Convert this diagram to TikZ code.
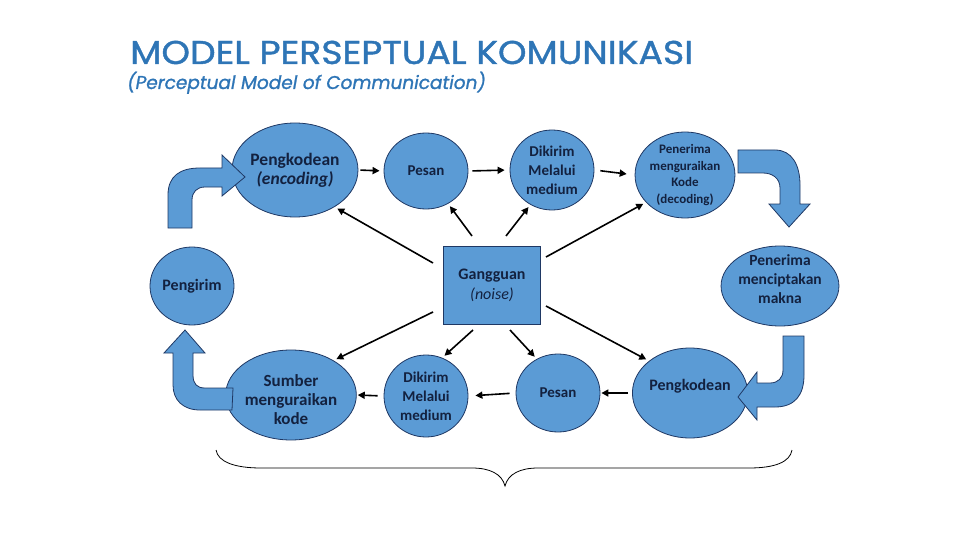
\documentclass[tikz,border=0pt]{standalone}
\usepackage{fontspec}
\setmainfont{Carlito}
\newfontfamily\titlefont[FakeStretch=1.1,FakeBold=1.2]{Poppins}
\newfontfamily\subtitlefont[FakeBold=1.2]{Poppins}
\usetikzlibrary{shapes.geometric,arrows.meta}
\definecolor{nodefill}{HTML}{5B9BD5}
\definecolor{nodeline}{HTML}{1F3864}
\definecolor{txt}{HTML}{13213F}
\definecolor{titleblue}{HTML}{2E75B6}
\newcommand{\stk}[1]{\begin{tabular}{@{}c@{}}#1\end{tabular}}
\tikzset{
  bub/.style={ellipse, draw=nodeline, line width=0.8pt, fill=nodefill, inner sep=0pt,
    align=center, text=txt, font=\bfseries\fontsize{15}{19}\selectfont},
  noisebox/.style={rectangle, draw=nodeline, line width=0.8pt, fill=nodefill, inner sep=0pt,
    align=center, text=txt, font=\bfseries\fontsize{16}{20}\selectfont,
    minimum width=97pt, minimum height=78pt},
  conn/.style={line width=1.6pt, -{Triangle[length=7pt,width=7pt]}, shorten >=3pt},
  flow/.style={line width=1.6pt, -{Triangle[length=7pt,width=7pt]}},
  bigarrow/.style={fill=nodefill, draw=nodeline, line width=0.8pt, line join=miter},
}
\begin{document}
\begin{tikzpicture}[x=1pt,y=-1pt]
\useasboundingbox (0,0) rectangle (960,540);
% titles
\node[anchor=base west, inner sep=0pt, text=titleblue, font=\titlefont\fontsize{33}{36}\selectfont] (title) at (130,64) {MODEL PERSEPTUAL KOMUNIKASI};
\node[anchor=base west, inner sep=0pt, text=titleblue, font=\subtitlefont\itshape\fontsize{18.5}{22}\selectfont] (subtitle) at (127,89) {(Perceptual Model of Communication)};

% nodes
\node[bub, minimum width=96pt, minimum height=94pt, font=\bfseries\fontsize{17.5}{19}\selectfont] (enc) at (295,170) {Pengkodean\\\textit{(encoding)}};
\node[bub, minimum width=84pt, minimum height=76pt] (pes1) at (426,171) {Pesan};
\node[bub, minimum width=84pt, minimum height=80pt] (dik1) at (552,170) {Dikirim\\Melalui\\medium};
\node[bub, minimum width=94pt, minimum height=84pt, font=\bfseries\fontsize{13}{16.5}\selectfont] (dec) at (685,175) {Penerima\\menguraikan\\Kode\\(decoding)};
\node[bub, minimum width=84pt, minimum height=78pt, font=\bfseries\fontsize{16}{19}\selectfont] (sender) at (192,286) {Pengirim};
\node[noisebox] (noise) at (492,285) {Gangguan\\\textit{\mdseries(noise)}};
\node[bub, minimum width=88pt, minimum height=80pt, font=\bfseries\fontsize{15.5}{19}\selectfont] (makna) at (780,286) {\raisebox{2pt}[0pt][0pt]{\stk{Penerima\\menciptakan\\makna}}};
\node[bub, minimum width=102pt, minimum height=90pt, font=\bfseries\fontsize{17}{19}\selectfont] (sum) at (291,395) {\raisebox{-11pt}[0pt][0pt]{\stk{Sumber\\menguraikan\\kode}}};
\node[bub, minimum width=84pt, minimum height=82pt] (dik2) at (426,396) {Dikirim\\Melalui\\medium};
\node[bub, minimum width=84pt, minimum height=78pt] (pes2) at (558,393) {Pesan};
\node[bub, minimum width=96pt, minimum height=90pt, font=\bfseries\fontsize{16}{19}\selectfont] (enc2) at (690,393) {\raisebox{3pt}[0pt][0pt]{Pengkodean}};

% horizontal flow arrows
\draw[flow, shorten <=2pt, shorten >=4pt] (enc.east) -- (pes1.west);
\draw[flow, shorten <=4pt, shorten >=5pt] (pes1.east) -- (dik1.west);
\draw[flow, shorten <=6pt, shorten >=8pt] (dik1.east) -- (dec.west);
\draw[flow, shorten <=4pt, shorten >=1pt] (enc2.west) -- (pes2.east);
\draw[flow, shorten <=6pt, shorten >=7pt] (pes2.west) -- (dik2.east);
\draw[flow, shorten <=6pt, shorten >=1pt] (dik2.west) -- (sum.east);

% noise connectors
\coordinate (n1) at (433,263);
\coordinate (n2) at (472,236);
\coordinate (n3) at (506,236);
\coordinate (n4) at (546,257);
\coordinate (n5) at (433,312);
\coordinate (n6) at (473,330);
\coordinate (n7) at (510,330);
\coordinate (n8) at (546,306);
\draw[conn] (n1) -- (enc.-43);
\draw[conn] (n2) -- (pes1.-56);
\draw[conn] (n3) -- (dik1.-122);
\draw[conn] (n4) -- (dec.-145);
\draw[conn] (n5) -- (sum.39);
\draw[conn] (n6) -- (dik2.67);
\draw[conn] (n7) -- (pes2.122);
\draw[conn] (n8) -- (enc2.142);

% block arrows
\draw[bigarrow] (168,228) -- (168,195) .. controls (168,176) and (180,168) .. (200,168) -- (222,168) -- (222,155) -- (245,177) -- (222,196) -- (222,187) -- (205,187) .. controls (197,187) and (192,192) .. (192,200) -- (192,228) -- cycle;
\draw[bigarrow] (738,150) -- (775,150) .. controls (792,150) and (800,165) .. (800,185) -- (800,204) -- (810,204) -- (789,227) -- (769,204) -- (780,204) -- (780,188) .. controls (780,178) and (772,173) .. (763,173) -- (738,173) -- cycle;
\draw[bigarrow] (783,336) -- (804,336) -- (804,375) .. controls (804,395) and (795,407) .. (775,407) -- (757,407) -- (757,420) -- (738,397) -- (757,372) -- (757,383) -- (770,383) .. controls (778,383) and (783,378) .. (783,370) -- cycle;
\draw[bigarrow] (185,330) -- (205,353) -- (193,353) -- (193,375) .. controls (193,384) and (197,388) .. (205,388) -- (233,388) -- (232,410) -- (200,410) .. controls (183,410) and (173,400) .. (173,385) -- (173,353) -- (164,353) -- cycle;

% brace
\draw[line width=0.8pt] (216,450) .. controls (218,462) and (235,468) .. (261,468) -- (472,468) .. controls (490,468) and (502,474) .. (505,486)
  .. controls (508,474) and (520,468) .. (538,468) -- (749,468) .. controls (775,468) and (790,462) .. (792,450);
\end{tikzpicture}
\end{document}
